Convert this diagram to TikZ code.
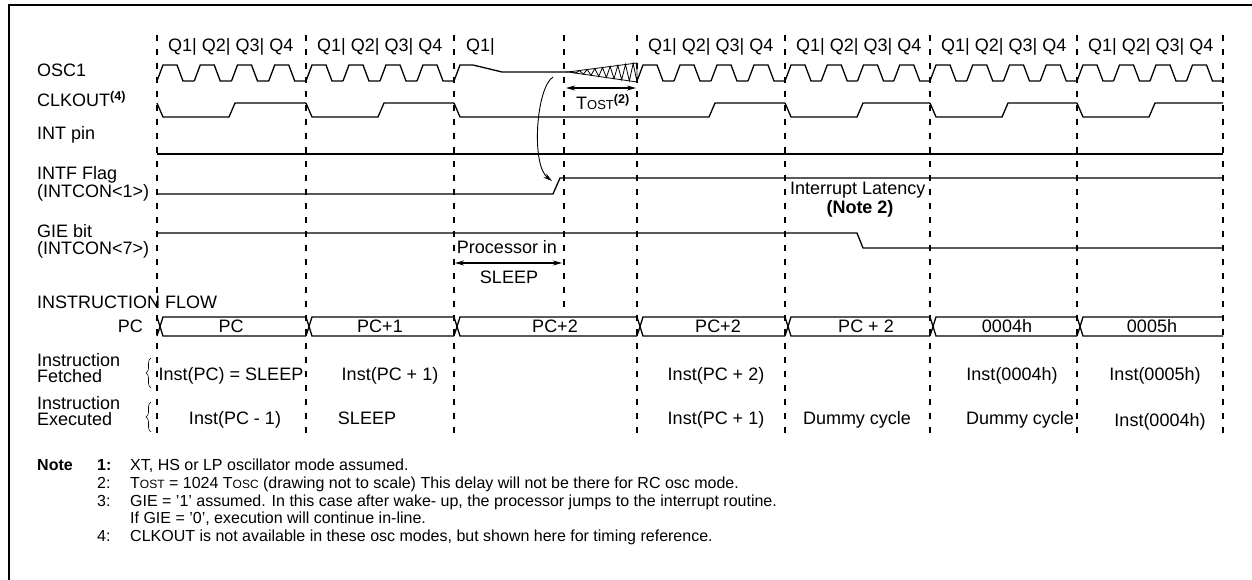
\documentclass[tikz,border=0pt]{standalone}
\usepackage{fontspec}
\setmainfont{Liberation Sans}
\usetikzlibrary{arrows.meta,decorations.pathreplacing}

\begin{document}
\begin{tikzpicture}[x=1pt,y=-1pt,
  every node/.style={inner sep=0pt,font=\fontsize{18}{20}\selectfont},
  lbl/.style={anchor=base west},
  val/.style={anchor=base},
  sig/.style={line width=1.3pt},
  grid/.style={line width=1.5pt,dash pattern=on 6pt off 8pt},
  dim/.style={line width=1.3pt,{Stealth[length=9pt,width=5pt]}-{Stealth[length=9pt,width=5pt]}},
  notetext/.style={anchor=base west,font=\fontsize{16}{18}\selectfont}]
  \useasboundingbox (0,0) rectangle (1252,580);
  \draw[line width=2pt] (9,580) -- (9,5) -- (1252,5);

  \foreach \x in {157,306,454,637,785,930,1077,1223}
    \draw[grid] (\x,35) -- (\x,439);
  \draw[grid] (564,35) -- (564,308);

  \foreach \c in {157,306,637,785,930,1077}
    \node[lbl] (q\c) at ({\c+11},52) {Q1| Q2| Q3| Q4};
  \node[lbl] (q454) at (466,52) {Q1|};

  \node[lbl] (osc) at (37,77) {OSC1};
  \node[lbl] (clk) at (37,107) {CLKOUT\textsuperscript{\textbf{(4)}}};
  \node[lbl] (intpin) at (37,140) {INT pin};
  \node[lbl] (intf) at (37,180) {INTF Flag};
  \node[lbl] (intcon1) at (37,197) {(INTCON<1>)};
  \node[lbl] (gie) at (37,237) {GIE bit};
  \node[lbl] (intcon7) at (37,254) {(INTCON<7>)};
  \node[lbl] (flow) at (37,308) {INSTRUCTION FLOW};
  \node[anchor=base east] (pclbl) at (143,332) {PC};
  \node[lbl] (fetch1) at (37,366) {Instruction};
  \node[lbl] (fetch2) at (37,382) {Fetched};
  \node[lbl] (exec1) at (37,409) {Instruction};
  \node[lbl] (exec2) at (37,425) {Executed};

  \foreach \c/\w in {157/37.25,306/37,637/37,785/36.25,930/36.75,1077/36.5}
    \foreach \k in {0,...,3}
      \draw[sig] ({\c+\k*\w},81) -- ++(6,-16) -- ++(14,0) -- ++(6,16) -- ({\c+(\k+1)*\w},81);
  \draw[sig] (454,81) -- (460,65) -- (473,65) -- (502,72) -- (568,72);
  \draw[line width=0.8pt] (568,72) -- (637,63) -- (637,82) -- cycle;
  \draw[line width=0.8pt] (568,72) \foreach \i in {1,3,...,17}
    { -- ({568+\i*69/18},{72-9*\i/18}) -- ({568+(\i+1)*69/18},{72+10*(\i+1)/18}) };

  \foreach \c/\w in {157/149,306/148,785/145,930/147,1077/146}
    \draw[sig] (\c,103) -- ++(6,14) -- ({\c+72},117) -- ++(6,-14) -- ({\c+\w},103);
  \draw[sig] (454,103) -- (460,117) -- (709,117) -- (715,103) -- (785,103);

  \draw[sig] (157,154) -- (1223,154);
  \draw[sig] (157,194) -- (553,194) -- (560,178) -- (1223,178);
  \draw[sig] (157,233) -- (857,233) -- (863,248) -- (1223,248);

  \coordinate (wake) at (553,77);
  \coordinate (intfup) at (552,181);
  \draw[line width=0.9pt,-{Stealth[length=9pt,width=5pt]}] (wake) .. controls (536,88) and (531,165) .. (intfup);

  \coordinate (tosta) at (566,88);
  \coordinate (tostb) at (636,88);
  \draw[dim] (tosta) -- (tostb);
  \node[val] (tost) at (603,110) {T{\fontsize{13}{13}\selectfont OST}\textsuperscript{\textbf{(2)}}};

  \node[lbl] (lat) at (790,195) {Interrupt Latency};
  \node[val] (latnote) at (860,214) {\textbf{(Note 2)}};

  \node[val] (proc) at (507,253) {Processor in};
  \coordinate (slpa) at (455,263);
  \coordinate (slpb) at (562,263);
  \draw[dim] (slpa) -- (slpb);
  \node[val] (sleep) at (509,283) {SLEEP};

  \foreach \b/\e in {157/306,306/454,454/637,637/785,785/930,930/1077,1077/1223} {
    \draw[sig] (\b,317) -- ({\b+6},336) -- (\e,336);
    \draw[sig] (\b,336) -- ({\b+6},317) -- (\e,317);
  }
  \node[val] (pc1) at (231,332) {PC};
  \node[val] (pc2) at (380,332) {PC+1};
  \node[val] (pc3) at (555,332) {PC+2};
  \node[val] (pc4) at (718,332) {PC+2};
  \node[val] (pc5) at (866,332) {PC + 2};
  \node[val] (pc6) at (1007,332) {0004h};
  \node[val] (pc7) at (1152,332) {0005h};

  \draw[line width=0.6pt,decorate,decoration={brace,amplitude=5pt}] (151,388) -- (151,358);
  \draw[line width=0.6pt,decorate,decoration={brace,amplitude=5pt}] (151,432) -- (151,402);

  \node[val] (f1) at (231,380) {Inst(PC) = SLEEP};
  \node[val] (f2) at (390,380) {Inst(PC + 1)};
  \node[val] (f3) at (716,380) {Inst(PC + 2)};
  \node[val] (f4) at (1012,380) {Inst(0004h)};
  \node[val] (f5) at (1155,380) {Inst(0005h)};

  \node[val] (e1) at (235,424) {Inst(PC - 1)};
  \node[val] (e2) at (367,424) {SLEEP};
  \node[val] (e3) at (716,424) {Inst(PC + 1)};
  \node[val] (e4) at (857,424) {Dummy cycle};
  \node[val] (e5) at (1020,424) {Dummy cycle};
  \node[val] (e6) at (1160,426) {Inst(0004h)};

  \node[notetext] (note) at (37,470) {\textbf{Note}};
  \node[notetext] (n1num) at (97,470) {\textbf{1:}};
  \node[notetext] (n1) at (130,470) {XT, HS or LP oscillator mode assumed.};
  \node[notetext] (n2num) at (97,488) {2:};
  \node[notetext] (n2) at (130,488) {T{\fontsize{12}{12}\selectfont OST} = 1024 T{\fontsize{12}{12}\selectfont OSC} (drawing not to scale) This delay will not be there for RC osc mode.};
  \node[notetext] (n3num) at (97,506) {3:};
  \node[notetext] (n3) at (130,506) {GIE = ’1’ assumed. In this case after wake- up, the processor jumps to the interrupt routine.};
  \node[notetext] (n3b) at (130,523) {If GIE = ’0’, execution will continue in-line.};
  \node[notetext] (n4num) at (97,541) {4:};
  \node[notetext] (n4) at (130,541) {CLKOUT is not available in these osc modes, but shown here for timing reference.};
\end{tikzpicture}
\end{document}
